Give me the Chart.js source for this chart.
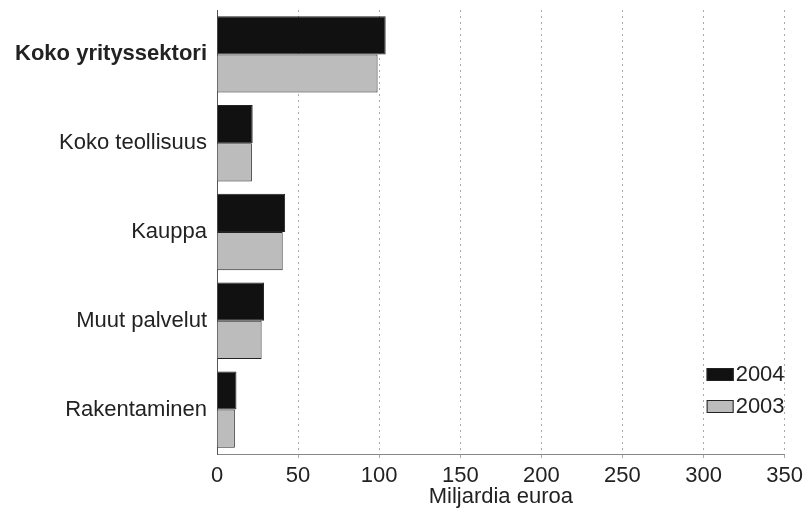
<!DOCTYPE html>
<html>
<head>
<meta charset="utf-8">
<script src="https://cdn.jsdelivr.net/npm/chart.js@4/dist/chart.umd.min.js"></script>
<style>
  html, body { margin: 0; padding: 0; background: #fff; }
  #wrap { width: 808px; height: 523px; }
</style>
</head>
<body>
<div id="wrap"><canvas id="barChart"></canvas></div>
<script>
// Kategoriat ja arvot (miljardia euroa)
const categories = ['Koko yrityssektori', 'Koko teollisuus', 'Kauppa', 'Muut palvelut', 'Rakentaminen'];
const values2004 = [104, 22, 42, 29, 12];
const values2003 = [99, 21.5, 40.5, 27.5, 11];
const xTicks = [0, 50, 100, 150, 200, 250, 300, 350];

const textColor = '#222';
const fontFamily = 'Arial, "Liberation Sans", sans-serif';

// oma selite piirtoalueen oikeaan alakulmaan
const insideLegend = {
  id: 'insideLegend',
  afterDraw(chart) {
    const ctx = chart.ctx;
    const area = chart.chartArea;
    ctx.save();
    ctx.font = '22px ' + fontFamily;
    ctx.textBaseline = 'middle';
    chart.data.datasets.forEach((ds, i) => {
      const x = area.right - 78;
      const y = area.bottom - 80 + i * 32;
      ctx.fillStyle = ds.backgroundColor;
      ctx.fillRect(x, y - 6, 27, 13);
      ctx.strokeStyle = '#222';
      ctx.lineWidth = 1;
      ctx.strokeRect(x + 0.5, y - 5.5, 26, 12);
      ctx.fillStyle = textColor;
      ctx.fillText(ds.label, x + 29, y + 1);
    });
    ctx.restore();
  }
};

new Chart(document.getElementById('barChart'), {
  type: 'bar',
  data: {
    labels: categories,
    datasets: [
      {
        label: '2004',
        data: values2004,
        backgroundColor: '#111111',
        borderColor: '#222',
        borderWidth: 1,
        barPercentage: 1.0,
        categoryPercentage: 0.86
      },
      {
        label: '2003',
        data: values2003,
        backgroundColor: '#bcbcbc',
        borderColor: '#222',
        borderWidth: 1,
        barPercentage: 1.0,
        categoryPercentage: 0.86
      }
    ]
  },
  options: {
    indexAxis: 'y',
    responsive: true,
    maintainAspectRatio: false,
    animation: false,
    layout: { padding: { top: 10, right: 21, left: 0, bottom: 0 } },
    plugins: {
      legend: { display: false },
      tooltip: { enabled: false }
    },
    scales: {
      x: {
        min: 0,
        max: 350,
        afterBuildTicks: (scale) => { scale.ticks = xTicks.map(v => ({ value: v })); },
        afterFit: (scale) => { scale.height = 69; },
        grid: {
          color: (c) => c.tick && c.tick.value === 0 ? 'rgba(0,0,0,0)' : '#a8a8a8',
          lineWidth: 1,
          drawTicks: true,
          tickLength: 4
        },
        // v4: border.dash koskee ruudukon viivoja
        border: { display: true, color: '#888', width: 1, dash: [2, 4] },
        ticks: {
          color: textColor,
          font: { family: fontFamily, size: 22 },
          padding: 5,
          maxRotation: 0
        },
        title: {
          display: true,
          text: 'Miljardia euroa',
          color: textColor,
          font: { family: fontFamily, size: 22 },
          padding: { top: 0, bottom: 13 }
        }
      },
      y: {
        afterFit: (scale) => {
          scale.width = 217;
          // ei ylimääräistä tilaa nimikkeille ylä- ja alapuolella
          scale.paddingTop = 0;
          scale.paddingBottom = 0;
        },
        grid: { display: false, drawTicks: false, tickLength: 0 },
        border: { display: true, color: '#555', width: 1 },
        ticks: {
          color: textColor,
          padding: 10,
          font: (c) => ({
            family: fontFamily,
            size: 22,
            weight: c.index === 0 ? 'bold' : 'normal'
          })
        }
      }
    }
  },
  plugins: [insideLegend]
});
</script>
</body>
</html>
